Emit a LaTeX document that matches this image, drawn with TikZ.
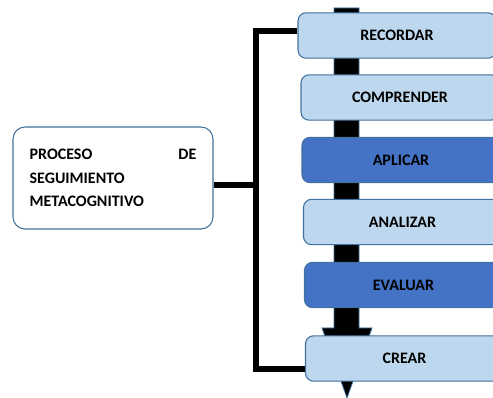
\documentclass[tikz,border=0pt]{standalone}
\usepackage{fontspec}
\setmainfont{Carlito}
\definecolor{lightlevel}{HTML}{BDD7EE}
\definecolor{darklevel}{HTML}{4472C4}
\definecolor{levelline}{HTML}{41719C}
\begin{document}
\begin{tikzpicture}[x=0.75pt,y=-0.75pt,
    level/.style={draw=levelline,line width=0.8pt,rounded corners=6pt,
        minimum width=148.5pt,minimum height=34pt,inner sep=0pt,
        font=\bfseries\fontsize{12}{14}\selectfont},
    light/.style={level,fill=lightlevel},
    dark/.style={level,fill=darklevel},
    bracket/.style={line width=3.8pt}]
    \useasboundingbox (0,0) rectangle (493,398);
    \clip (0,0) rectangle (493,398);
    % big arrow behind the levels
    \filldraw[fill=black,draw=levelline,line width=0.6pt] (334,8) -- (359,8) -- (359,328) -- (372,328)
        -- (347,398) -- (322,328) -- (334,328) -- cycle;
    % levels
    \node[light] (rec) at (397,35.5) {RECORDAR};
    \node[light] (comp) at (400,97.5) {COMPRENDER};
    \node[dark] (apl) at (401,160) {APLICAR};
    \node[light] (ana) at (402.5,222) {ANALIZAR};
    \node[dark] (eva) at (403.5,285) {EVALUAR};
    \node[light] (crear) at (404.5,358.5) {CREAR};
    % process box
    \node[draw=levelline,line width=0.8pt,fill=white,rounded corners=9pt,
        minimum width=150pt,minimum height=76.5pt,text width=125pt,inner xsep=12.5pt,
        align=left,font=\bfseries\fontsize{12}{17.6}\selectfont] (proc) at (113,178)
        {PROCESO\hfill DE\\SEGUIMIENTO\\METACOGNITIVO};
    % bracket
    \coordinate (jtop) at (256,31);
    \coordinate (jmid) at (256,185);
    \coordinate (jbot) at (256,369);
    \draw[bracket] (rec.west |- jtop) -- (jtop) -- (jbot) -- (crear.west |- jbot);
    \draw[bracket] (proc.east |- jmid) -- (jmid);
\end{tikzpicture}
\end{document}
